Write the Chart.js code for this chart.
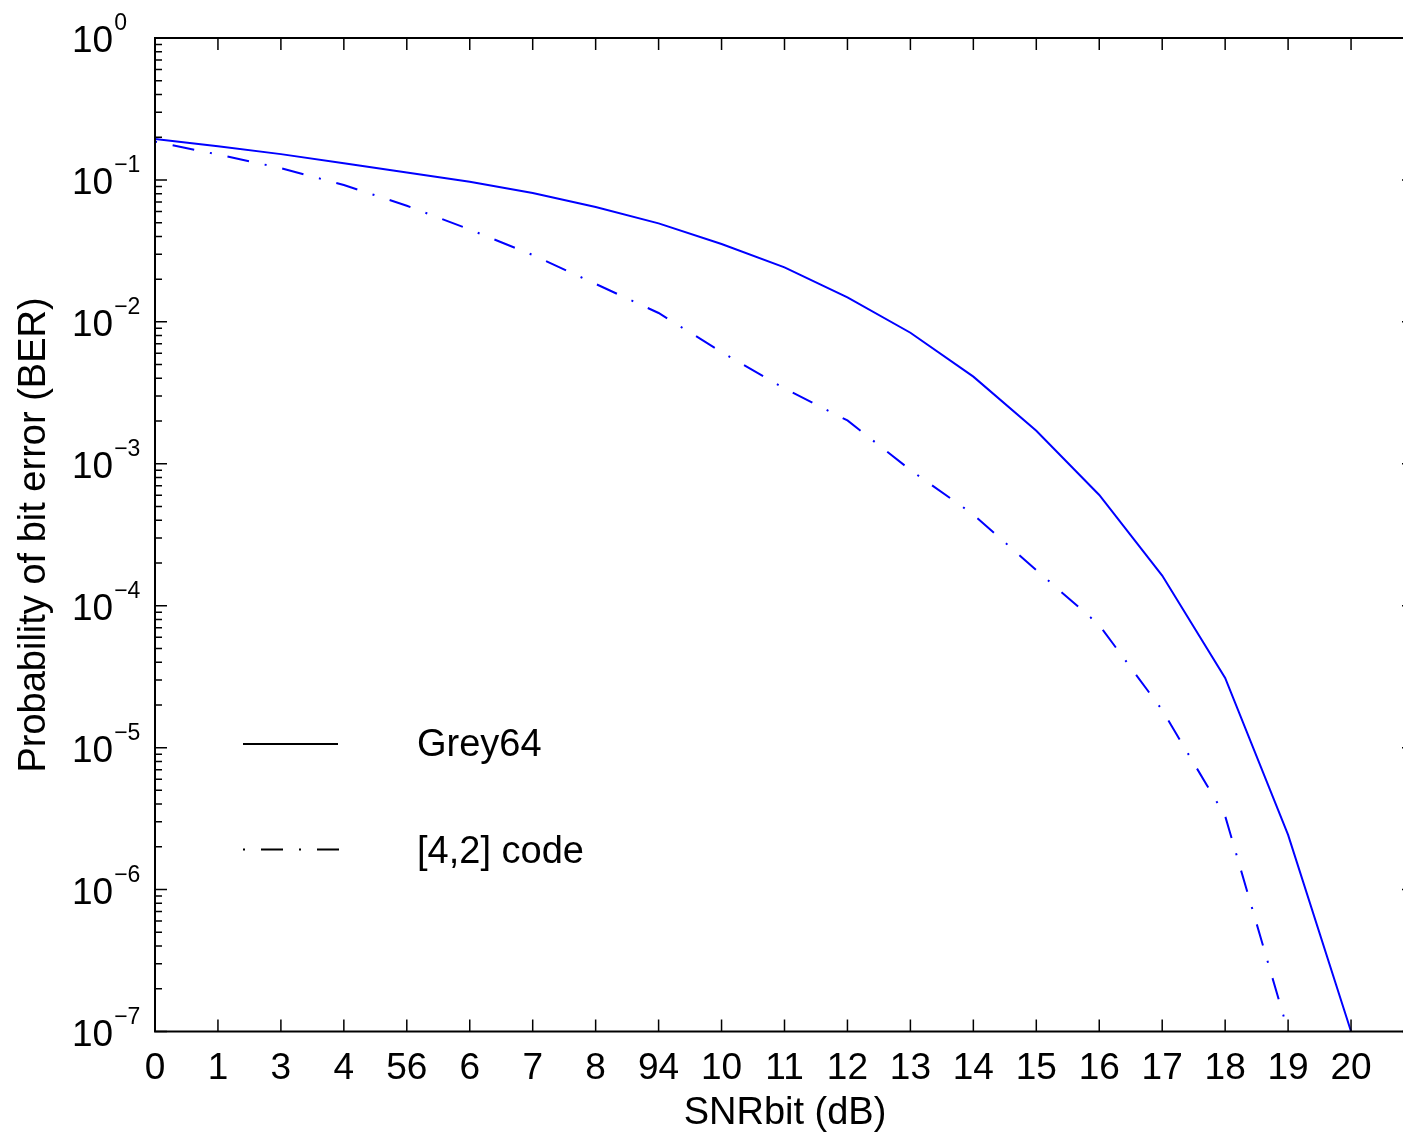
<!DOCTYPE html>
<html>
<head>
<meta charset="utf-8">
<title>BER vs SNRbit</title>
<script src="https://cdn.jsdelivr.net/npm/chart.js@4.4.1/dist/chart.umd.min.js"></script>
<style>
  html, body { margin: 0; padding: 0; background: #fff; overflow: hidden; }
  #wrap { width: 1415px; height: 1132px; }
</style>
</head>
<body>
<div id="wrap"><canvas id="berchart" width="1415" height="1132"></canvas></div>
<script>
// tick labels exactly as printed under the axis
const tickLabels = ["0", "1", "3", "4", "56", "6", "7", "8", "94", "10",
                    "11", "12", "13", "14", "15", "16", "17", "18", "19", "20"];
const snrIndex = [0, 1, 2, 3, 4, 5, 6, 7, 8, 9, 10, 11, 12, 13, 14, 15, 16, 17, 18, 19];

const grey64 = [0.194, 0.173, 0.152, 0.131, 0.113, 0.0972, 0.0809, 0.0644, 0.0494, 0.0354,
                0.0242, 0.0149, 0.00838, 0.00411, 0.00171, 6.03e-4, 1.63e-4, 3.10e-5, 2.43e-6, 1.0e-7];
const code42 = [0.186, 0.151, 0.121, 0.0921, 0.0658, 0.0447, 0.0296, 0.0185, 0.01155, 0.00613,
                0.00339, 0.00202, 9.04e-4, 4.39e-4, 1.78e-4, 7.31e-5, 1.84e-5, 3.30e-6, 1.0e-7];

const decades = [0, -1, -2, -3, -4, -5, -6, -7];
const seriesNames = ["Grey64", "[4,2] code"];

const FONT = '"Liberation Sans", Arial, Helvetica, sans-serif';
const DASHDOT = [2, 16, 22, 16];

const axesFrame = {
  id: "axesFrame",
  afterDraw(chart) {
    const { ctx, chartArea: a, scales: { x, y } } = chart;
    ctx.save();
    ctx.strokeStyle = "#000";
    ctx.fillStyle = "#000";

    // box
    ctx.lineWidth = 2;
    ctx.strokeRect(a.left, a.top, a.right - a.left, a.bottom - a.top);

    // inward ticks
    ctx.lineWidth = 1.5;
    ctx.beginPath();
    snrIndex.forEach(v => {
      const px = x.getPixelForValue(v);
      ctx.moveTo(px, a.bottom); ctx.lineTo(px, a.bottom - 12);
      ctx.moveTo(px, a.top); ctx.lineTo(px, a.top + 12);
    });
    decades.forEach(d => {
      for (let m = 1; m <= 9; m++) {
        const val = m * Math.pow(10, d);
        if (val > 1) continue;
        const py = y.getPixelForValue(val);
        const len = m === 1 ? 12 : 7;
        ctx.moveTo(a.left, py); ctx.lineTo(a.left + len, py);
        ctx.moveTo(a.right, py); ctx.lineTo(a.right - len, py);
      }
    });
    ctx.stroke();

    // y tick labels 10^k
    ctx.textAlign = "left";
    ctx.textBaseline = "alphabetic";
    decades.forEach(d => {
      const py = y.getPixelForValue(Math.pow(10, d));
      ctx.font = "37px " + FONT;
      ctx.fillText("10", 72, py + 14);
      const w = ctx.measureText("10").width;
      ctx.font = "23px " + FONT;
      ctx.fillText(d === 0 ? "0" : "\u2212" + (-d), 72 + w + 1, py - 8);
    });

    // x tick labels
    ctx.font = "37px " + FONT;
    ctx.textAlign = "center";
    snrIndex.forEach(v => {
      ctx.fillText(tickLabels[v], x.getPixelForValue(v), 1079);
    });

    // axis titles
    ctx.font = "38px " + FONT;
    ctx.fillText("SNRbit (dB)", 785, 1124);
    ctx.save();
    ctx.translate(45, 535);
    ctx.rotate(-Math.PI / 2);
    ctx.fillText("Probability of bit error (BER)", 0, 0);
    ctx.restore();

    // legend (no box)
    ctx.lineWidth = 2;
    ctx.beginPath();
    ctx.moveTo(243, 744); ctx.lineTo(338, 744);
    ctx.stroke();
    ctx.setLineDash(DASHDOT);
    ctx.beginPath();
    ctx.moveTo(243, 849.5); ctx.lineTo(340, 849.5);
    ctx.stroke();
    ctx.setLineDash([]);
    ctx.font = "38px " + FONT;
    ctx.textAlign = "left";
    ctx.fillText(seriesNames[0], 417, 756);
    ctx.fillText(seriesNames[1], 417, 863);

    ctx.restore();
  }
};

const ctx = document.getElementById("berchart").getContext("2d");

window.berChart = new Chart(ctx, {
  type: "line",
  data: {
    datasets: [{
      label: seriesNames[0],
      data: snrIndex.map((v, i) => ({ x: v, y: grey64[i] })),
      borderColor: "#0000ff",
      borderWidth: 2,
      pointRadius: 0,
      tension: 0,
      fill: false
    }, {
      label: seriesNames[1],
      data: code42.map((val, i) => ({ x: snrIndex[i], y: val })),
      borderColor: "#0000ff",
      borderWidth: 2,
      borderDash: DASHDOT,
      pointRadius: 0,
      tension: 0,
      fill: false
    }]
  },
  options: {
    responsive: false,
    animation: false,
    layout: { padding: { left: 155, top: 38, right: 1, bottom: 100.5 } },
    plugins: {
      legend: { display: false },
      tooltip: { enabled: false }
    },
    scales: {
      x: { type: "linear", min: 0, max: 20, display: false },
      y: { type: "logarithmic", min: 1e-7, max: 1, display: false }
    }
  },
  plugins: [axesFrame]
});
</script>
</body>
</html>
